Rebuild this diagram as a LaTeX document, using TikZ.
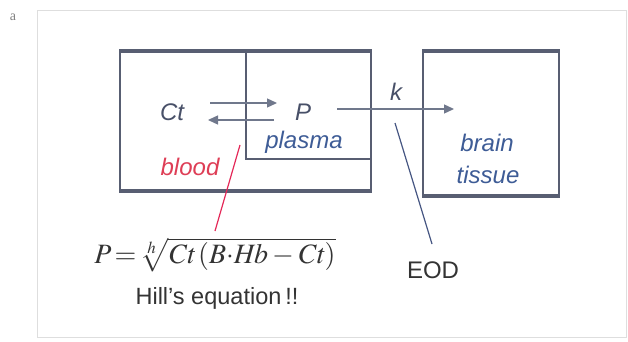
\documentclass[tikz,border=0pt]{standalone}
\usepackage{mathptmx}
\usepackage{fontspec}
\setmainfont{Liberation Sans}
\newfontfamily\serifa{Liberation Serif}
\usetikzlibrary{arrows.meta}
\definecolor{boxc}{RGB}{88,94,114}
\definecolor{txtc}{RGB}{72,80,104}
\definecolor{bluet}{RGB}{62,92,150}
\definecolor{redt}{RGB}{222,62,86}
\definecolor{redl}{RGB}{228,40,88}
\definecolor{arrc}{RGB}{112,120,140}
\definecolor{eodl}{RGB}{70,86,130}
\definecolor{framec}{RGB}{222,222,222}
\tikzset{
  boxs/.style={draw=boxc, line width=1.8pt, inner sep=0pt},
  thickedge/.style={draw=boxc, line width=3.6pt},
  lbl/.style={font=\fontsize{24}{26}\selectfont\itshape, inner sep=0pt},
  flow/.style={draw=arrc, line width=1.3pt, -{Triangle[length=10pt,width=9pt]}},
  pointer/.style={line width=1.2pt}
}
\begin{document}
\begin{tikzpicture}[x=1pt,y=-1pt]
\useasboundingbox (0,0) rectangle (628,342);
\draw[framec, line width=0.8pt] (37,10) rectangle (626,337);
\node[font=\serifa\fontsize{14}{16}\selectfont, text=gray] (lab) at (13,17) {a};

% blood box
\node[boxs, minimum width=251pt, minimum height=138pt] (blood) at (245.5,121) {};
\draw[thickedge] (blood.north west) -- (blood.north east);
\draw[thickedge] (blood.south west) -- (blood.south east);
% plasma sub-box
\coordinate (pl) at (246,159);
\draw[draw=boxc, line width=1.2pt] (pl |- blood.north) -- (pl) -- (pl -| blood.east);

% brain box
\node[boxs, minimum width=136pt, minimum height=143pt] (brainbox) at (491,123.5) {};
\draw[thickedge] (brainbox.north west) -- (brainbox.north east);
\draw[thickedge] (brainbox.south west) -- (brainbox.south east);

% texts
\node[lbl, text=txtc] (ct) at (172,112) {Ct};
\node[lbl, text=txtc] (p) at (303,112) {P};
\node[lbl, text=bluet] (plasma) at (304,142) {plasma};
\node[lbl, text=redt] (bloodt) at (190,167) {blood};
\node[lbl, text=txtc] (k) at (396,92) {k};
\node[lbl, text=bluet] (brain) at (487,143) {brain};
\node[lbl, text=bluet] (tissue) at (488,175) {tissue};
\node[font=\fontsize{24}{26}\selectfont, text=black!80, inner sep=0pt] (eod) at (433,270) {EOD};
\node[font=\fontsize{28}{30}\selectfont, text=black!80, inner sep=0pt] (formula) at (215,255)
  {$P\!=\!\sqrt[h]{\mathit{Ct}\,(B{\cdot}\mathit{Hb}-\mathit{Ct})}$};
\node[font=\fontsize{23.5}{26}\selectfont, text=black!80, inner sep=0pt] (hill) at (217,298) {Hill's equation\,!!};

% equilibrium arrows
\coordinate (f1) at (210,103);
\coordinate (f2) at (277,103);
\coordinate (b1) at (274,120);
\coordinate (b2) at (208,120);
\draw[flow] (f1) -- (f2);
\draw[flow] (b1) -- (b2);

% transfer arrow k
\coordinate (k1) at (337,109);
\coordinate (k2) at (454,109);
\draw[flow] (k1) -- (k2);

% pointer lines
\coordinate (r1) at (240,145);
\coordinate (r2) at (215,231);
\draw[pointer, redl] (r1) -- (r2);
\coordinate (e1) at (395,123);
\coordinate (e2) at (432,244);
\draw[pointer, eodl] (e1) -- (e2);
\end{tikzpicture}
\end{document}
